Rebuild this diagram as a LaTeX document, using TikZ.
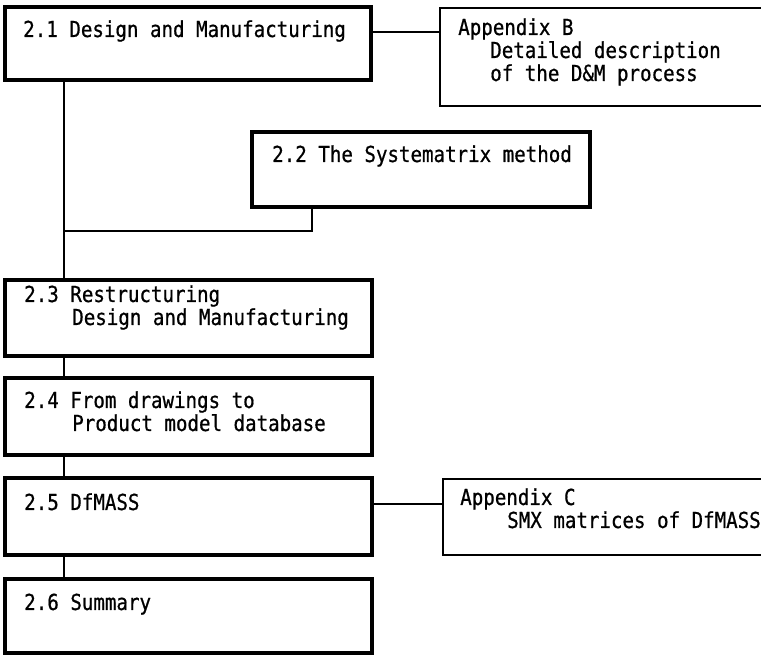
\documentclass[tikz,border=0pt]{standalone}
\usepackage{fontspec}
\newfontfamily\boxfont[FakeStretch=0.87,FakeBold=0.7]{DejaVu Sans Mono}
\usetikzlibrary{fit}
\begin{document}
\begin{tikzpicture}[x=0.75pt,y=-0.75pt,
  chapbox/.style={draw, line width=2.3pt, inner sep=0pt, rectangle},
  appbox/.style={draw, line width=1.1pt, inner sep=0pt, rectangle},
  link/.style={line width=1pt},
  lbl/.style={anchor=base west, inner sep=0pt, font=\boxfont\fontsize{16.5}{19}\selectfont}]
\clip (0,0) rectangle (761,655);
\fill[white] (0,0) rectangle (761,655);

% chapter boxes
\node[chapbox, fit={(5,7)(371,80)}] (b21) {};
\node[chapbox, fit={(252,132)(590,207)}] (b22) {};
\node[chapbox, fit={(5,280)(372,356)}] (b23) {};
\node[chapbox, fit={(5,378)(372,455)}] (b24) {};
\node[chapbox, fit={(5,478)(372,555)}] (b25) {};
\node[chapbox, fit={(5,579)(372,653)}] (b26) {};
% appendix boxes (open to the right)
\node[appbox, fit={(440,8)(775,106)}] (appB) {};
\node[appbox, fit={(443,479)(775,555)}] (appC) {};

% labels
\node[lbl] (t21) at (23,37) {2.1 Design and Manufacturing};
\node[lbl] (tB1) at (458,35) {Appendix B};
\node[lbl] (tB2) at (490,58) {Detailed description};
\node[lbl] (tB3) at (490,81) {of the D\&M process};
\node[lbl] (t22) at (272,162) {2.2 The Systematrix method};
\node[lbl] (t23a) at (24,302) {2.3 Restructuring};
\node[lbl] (t23b) at (72,325) {Design and Manufacturing};
\node[lbl] (t24a) at (24,408) {2.4 From drawings to};
\node[lbl] (t24b) at (72,431) {Product model database};
\node[lbl] (t25) at (24,510) {2.5 DfMASS};
\node[lbl] (tC1) at (460,505) {Appendix C};
\node[lbl] (tC2) at (507,528) {SMX matrices of DfMASS};
\node[lbl] (t26) at (24,610) {2.6 Summary};

% connectors
\coordinate (sx) at (64,0);
\coordinate (join) at (64,231);
\coordinate (dx) at (312,0);
\draw[link] (b21.east |- 0,32) -- (appB.west |- 0,32);
\draw[link] (b21.south -| sx) -- (b23.north -| sx);
\draw[link] (b22.south -| dx) |- (join);
\draw[link] (b23.south -| sx) -- (b24.north -| sx);
\draw[link] (b24.south -| sx) -- (b25.north -| sx);
\draw[link] (b25.south -| sx) -- (b26.north -| sx);
\draw[link] (b25.east |- 0,504) -- (appC.west |- 0,504);
\end{tikzpicture}
\end{document}
